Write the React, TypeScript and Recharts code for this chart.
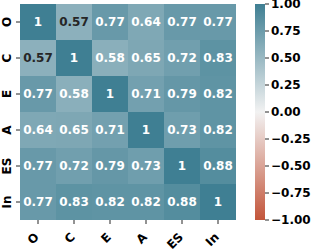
import React from 'react';
import { ScatterChart, Scatter, XAxis, YAxis, BarChart, Bar } from 'recharts';

const TRAITS = ['O', 'C', 'E', 'A', 'ES', 'In'];

const ROW_O = [1, 0.57, 0.77, 0.64, 0.77, 0.77];
const ROW_C = [0.57, 1, 0.58, 0.65, 0.72, 0.83];
const ROW_E = [0.77, 0.58, 1, 0.71, 0.79, 0.82];
const ROW_A = [0.64, 0.65, 0.71, 1, 0.73, 0.82];
const ROW_ES = [0.77, 0.72, 0.79, 0.73, 1, 0.88];
const ROW_IN = [0.77, 0.83, 0.82, 0.82, 0.88, 1];

const CBAR_RANGE = [-1, 1];
const CBAR_TICKS = [-1, -0.75, -0.5, -0.25, 0, 0.25, 0.5, 0.75, 1];

const ROWS = [ROW_O, ROW_C, ROW_E, ROW_A, ROW_ES, ROW_IN];

const FONT = '"DejaVu Sans", sans-serif';
const POS = [63, 127, 147];
const MID = [242, 242, 242];
const NEG = [195, 85, 58];
const CELL = 36;

const mix = (a: number[], b: number[], t: number) => a.map((v, i) => Math.round(v + (b[i] - v) * t));

const colorOf = (v: number) => (v >= 0 ? mix(MID, POS, v) : mix(MID, NEG, -v));

const toHex = (c: number[]) => '#' + c.map((v) => v.toString(16).padStart(2, '0')).join('');

const luminance = (c: number[]) => {
  const lin = c.map((v) => {
    const s = v / 255;
    return s <= 0.03928 ? s / 12.92 : Math.pow((s + 0.055) / 1.055, 2.4);
  });
  return 0.2126 * lin[0] + 0.7152 * lin[1] + 0.0722 * lin[2];
};

const cells = ROWS.flatMap((row, r) =>
  row.map((v, c) => ({ x: c + 0.5, y: r + 0.5, value: v }))
);

const cbarData = [{ name: 'cbar', range: CBAR_RANGE }];

const HeatCell = (props: any) => {
  const { cx, cy, payload } = props;
  const col = colorOf(payload.value);
  const textColor = luminance(col) > 0.4 ? '#262626' : '#ffffff';
  return (
    <g>
      <rect x={cx - CELL / 2} y={cy - CELL / 2} width={CELL} height={CELL} fill={toHex(col)} />
      <text
        x={cx}
        y={cy}
        textAnchor="middle"
        dominantBaseline="central"
        fontSize={12}
        fontWeight="bold"
        fontFamily={FONT}
        fill={textColor}
      >
        {String(payload.value)}
      </text>
    </g>
  );
};

const XTick = (props: any) => {
  const { x, payload } = props;
  return (
    <text
      transform={`translate(${x - 1},${235}) rotate(-45)`}
      textAnchor="end"
      dominantBaseline="central"
      fontSize={12}
      fontWeight="bold"
      fontFamily={FONT}
      fill="#000"
    >
      {TRAITS[Math.floor(payload.value)]}
    </text>
  );
};

const YTick = (props: any) => {
  const { y, payload } = props;
  return (
    <text
      transform={`translate(${11},${y}) rotate(-90)`}
      textAnchor="middle"
      fontSize={12}
      fontWeight="bold"
      fontFamily={FONT}
      fill="#000"
    >
      {TRAITS[Math.floor(payload.value)]}
    </text>
  );
};

const fmt = (v: number) => (v < 0 ? '\u2212' + Math.abs(v).toFixed(2) : v.toFixed(2));

const App: React.FC = () => {
  return (
    <div style={{ position: 'absolute', left: 0, top: 0, width: 315, height: 249, background: '#fff' }}>
      <div style={{ position: 'absolute', left: 0, top: 0 }}>
        <ScatterChart width={240} height={249} margin={{ top: 4, right: 4, bottom: 0, left: 0 }}>
          <XAxis
            type="number"
            dataKey="x"
            domain={[0, 6]}
            ticks={[0.5, 1.5, 2.5, 3.5, 4.5, 5.5]}
            height={29}
            axisLine={false}
            tickSize={4}
            tickLine={{ stroke: '#262626' }}
            tick={<XTick />}
            interval={0}
          />
          <YAxis
            type="number"
            dataKey="y"
            domain={[0, 6]}
            reversed
            ticks={[0.5, 1.5, 2.5, 3.5, 4.5, 5.5]}
            width={20}
            axisLine={false}
            tickSize={4}
            tickLine={{ stroke: '#262626' }}
            tick={<YTick />}
            interval={0}
          />
          <Scatter data={cells} shape={<HeatCell />} isAnimationActive={false} />
        </ScatterChart>
      </div>
      <div style={{ position: 'absolute', left: 240, top: 0 }}>
        <BarChart
          width={75}
          height={249}
          data={cbarData}
          margin={{ top: 4, right: 0, bottom: 29, left: 15 }}
          barCategoryGap={0}
        >
          <defs>
            <linearGradient id="cbar" x1="0" y1="0" x2="0" y2="1">
              <stop offset="0%" stopColor={toHex(colorOf(1))} />
              <stop offset="50%" stopColor={toHex(colorOf(0))} />
              <stop offset="100%" stopColor={toHex(colorOf(-1))} />
            </linearGradient>
          </defs>
          <XAxis type="category" dataKey="name" hide />
          <YAxis
            orientation="right"
            type="number"
            domain={[-1, 1]}
            ticks={CBAR_TICKS}
            interval={0}
            width={50}
            axisLine={false}
            tickSize={4}
            tickLine={{ stroke: '#262626' }}
            tickFormatter={fmt}
            tick={{ fontSize: 12, fontWeight: 'bold', fontFamily: FONT, fill: '#000' }}
          />
          <Bar dataKey="range" fill="url(#cbar)" isAnimationActive={false} />
        </BarChart>
      </div>
    </div>
  );
};

export default App;
